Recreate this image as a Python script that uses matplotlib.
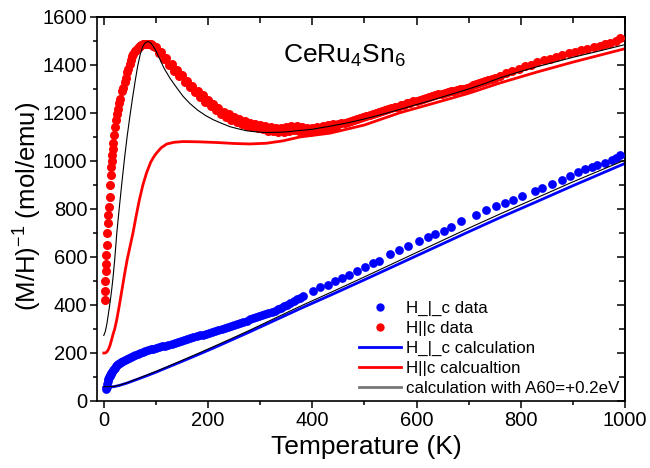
import matplotlib
matplotlib.use("Agg")
import matplotlib.pyplot as plt
from matplotlib.lines import Line2D
from matplotlib.ticker import MultipleLocator

plt.rcParams['font.family'] = ['Liberation Sans', 'DejaVu Sans']
plt.rcParams['mathtext.fontset'] = 'custom'
plt.rcParams['mathtext.rm'] = 'Liberation Sans'
plt.rcParams['mathtext.it'] = 'Liberation Sans:italic'
plt.rcParams['mathtext.default'] = 'regular'

# ---------------- data ----------------
# H perpendicular c, measured
perp_T = [5, 6, 7, 8, 9, 10, 11, 12, 13, 14, 15, 17, 19, 21, 23, 25, 28, 31, 34, 37, 40, 44,
          48, 52, 56, 60, 65, 70, 75, 80, 85, 90, 95, 100, 106, 112, 118, 124, 130, 136, 142,
          148, 154, 160, 166, 172, 178, 184, 190, 196, 202, 208, 214, 220, 226, 232, 238, 244,
          250, 256, 262, 268, 274, 280, 286, 292, 298, 304, 310, 316, 322, 328, 334, 340, 346,
          352, 358, 364, 370, 376, 382, 401, 415, 430, 443, 458, 471, 485, 501, 517, 528, 550,
          567, 583, 605, 622, 635, 653, 666, 685, 714, 733, 752, 770, 785, 803, 827, 841, 860,
          879, 894, 910, 923, 936, 946, 962, 975, 983, 990]
perp_chi = [48, 60, 72, 84, 92, 98, 104, 109, 113, 117, 121, 128, 134, 139, 144, 148, 154, 159,
            164, 168, 172, 177, 181, 185, 189, 193, 197, 201, 205, 209, 212, 215, 218, 221, 224,
            228, 231, 234, 238, 241, 245, 249, 253, 257, 261, 265, 269, 273, 276, 280, 284, 288,
            292, 296, 300, 304, 308, 312, 317, 321, 325, 330, 335, 340, 344, 349, 353, 358, 362,
            367, 372, 377, 383, 388, 394, 401, 409, 416, 424, 431, 439, 457, 473, 485, 498, 514,
            527, 543, 560, 577, 585, 613, 630, 647, 665, 685, 697, 709, 726, 748, 776, 797, 812,
            825, 838, 854, 876, 889, 905, 921, 939, 955, 967, 977, 983, 993, 1004, 1012, 1025]

# H parallel c, measured
par_T = [2, 2.5, 3, 3.5, 4, 5, 6, 7, 8, 9, 10, 11, 12, 13, 14, 15, 16, 17, 18, 20, 22, 24,
         26, 28, 30, 32, 35, 37, 40, 42, 45, 47, 50, 52, 55, 57, 60, 62, 65, 67, 70, 72, 75,
         78, 81, 84, 87, 90, 93, 95, 98,
         100, 105, 110, 115, 120, 125, 130, 135, 140, 145, 150, 155, 160, 165, 170, 175, 180,
         185, 190, 195, 200, 205, 210, 215, 220, 225, 230, 235, 240, 245, 250, 255, 260, 265,
         270, 275, 280, 285, 290, 295, 300, 305, 310, 315, 320, 325, 330, 335, 340, 345, 350,
         355, 360, 365, 370, 375, 380, 385, 390, 395, 400, 405, 410, 415, 420, 425, 430, 435,
         440, 445, 450,
         456, 462, 468, 474, 480, 486, 492, 498, 504, 510, 516, 522, 528, 534, 540, 546, 552,
         558, 564, 570, 576, 582, 588, 594, 600, 606, 612, 618, 624, 630, 636, 642, 648, 654,
         660, 666, 672, 678, 684, 690, 696, 702, 708, 714, 720, 726, 732, 738, 744, 750,
         760, 772, 784, 796, 808, 820, 832, 844, 856, 868, 880, 892, 904, 916, 928, 940, 952,
         962, 972, 982, 990]
par_chi = [420, 460, 500, 540, 570, 610, 650, 700, 740, 775, 810, 850, 900, 940, 975, 1000,
           1025, 1050, 1075, 1110, 1140, 1170, 1195, 1215, 1240, 1260, 1290, 1305, 1330, 1345,
           1370, 1385, 1405, 1420, 1438, 1447, 1458, 1463, 1472, 1476, 1480, 1483, 1486, 1487,
           1488, 1488, 1487, 1486, 1483, 1479, 1473,
           1476, 1449, 1455, 1426, 1428, 1398, 1404, 1376, 1380, 1354, 1358, 1330, 1335, 1308,
           1314, 1288, 1293, 1266, 1274, 1247, 1254, 1228, 1236, 1211, 1220, 1197, 1205, 1183,
           1194, 1171, 1182, 1162, 1173, 1153, 1165, 1146, 1160, 1141, 1155, 1137, 1150, 1132,
           1146, 1127, 1142, 1124, 1139, 1122, 1138, 1122, 1140, 1127, 1146, 1129, 1144, 1127,
           1140, 1121, 1136, 1121, 1139, 1125, 1143, 1129, 1147, 1133, 1151, 1138, 1156, 1143,
           1153,
           1157, 1160, 1164, 1168, 1172, 1176, 1180, 1184, 1188, 1191, 1196, 1199, 1203, 1208,
           1211, 1216, 1219, 1224, 1227, 1232, 1235, 1240, 1243, 1248, 1251, 1256, 1259, 1263,
           1267, 1271, 1274, 1278, 1281, 1284, 1287, 1290, 1293, 1296, 1299, 1302, 1306, 1310,
           1315, 1319, 1324, 1328, 1333, 1338, 1342, 1347,
           1356, 1366, 1375, 1385, 1395, 1402, 1411, 1419, 1426, 1434, 1442, 1449, 1455, 1461,
           1467, 1473, 1480, 1486, 1493, 1502, 1512]

# H perpendicular c, calculation
perp_calc_T = [0, 10, 20, 30, 45, 60, 80, 100, 121, 150, 184, 215, 248, 280, 312, 344, 376,
               434, 500, 560, 632, 700, 760, 830, 900, 1000]
perp_calc_chi = [57, 58, 60, 65, 75, 87, 103, 120, 139, 165, 196, 225, 257, 288, 320, 352,
                 384, 440, 505, 565, 637, 705, 764, 830, 897, 990]

# H parallel c, calculation
par_calc_T = [0, 3, 6, 9, 12, 15, 18, 21, 25, 30, 35, 40, 45, 50, 56, 62, 68, 75, 82, 90,
              95, 100, 110, 121, 135, 152, 180, 217, 250, 280, 312, 344, 376, 434, 500, 568,
              632, 700, 760, 830, 900, 1000]
par_calc_chi = [200, 200, 205, 215, 232, 255, 280, 300, 340, 400, 465, 530, 590, 640, 700,
                770, 835, 900, 950, 995, 1014, 1030, 1055, 1071, 1078, 1081, 1080, 1077, 1073,
                1071, 1074, 1084, 1100, 1116, 1150, 1201, 1240, 1282, 1325, 1370, 1412, 1468]

# calculation with A60 = +0.2 eV (both field directions)
a60_par_T = [0, 3, 6, 9, 12, 15, 18, 21, 25, 30, 35, 40, 45, 50, 55, 60, 65, 70, 75, 80, 85,
             90, 95, 101, 108, 116, 127, 140, 152, 165, 180, 195, 210, 226, 242, 258, 274,
             290, 306, 322, 338, 354, 370, 386, 402, 434, 470, 500, 535, 568, 600, 632, 665,
             700, 730, 760, 795, 830, 865, 900, 950, 1000]
a60_par_chi = [273, 290, 322, 365, 410, 460, 520, 590, 700, 810, 915, 1015, 1105, 1185, 1260,
               1330, 1395, 1445, 1478, 1494, 1498, 1492, 1478, 1455, 1422, 1385, 1345, 1305,
               1270, 1240, 1212, 1190, 1172, 1157, 1143, 1134, 1126, 1122, 1119, 1119, 1120,
               1122, 1126, 1129, 1133, 1145, 1160, 1175, 1195, 1215, 1235, 1255, 1277, 1300,
               1322, 1346, 1370, 1392, 1412, 1432, 1458, 1485]
a60_perp_T = [0, 10, 20, 30, 45, 60, 80, 100, 121, 150, 184, 215, 248, 280, 312, 344, 376,
              434, 500, 560, 632, 700, 760, 830, 900, 1000]
a60_perp_chi = [60, 60, 61, 66, 76, 89, 106, 123, 142, 169, 201, 231, 263, 295, 328, 361, 394,
                451, 517, 578, 651, 720, 779, 846, 913, 1004]

labels = ["H_|_c data", "H||c data", "H_|_c calculation", "H||c calcualtion",
          "calculation with A60=+0.2eV"]

# ---------------- figure ----------------
W, H = 650, 468
fig = plt.figure(figsize=(6.5, 4.68), dpi=100)
ax = fig.add_axes([97 / W, 1 - 401 / H, 528 / W, 384 / H])

BLUE = '#0000FF'
RED = '#FF0000'

ax.plot(par_calc_T, par_calc_chi, color=RED, lw=2.0, zorder=2)
ax.plot(perp_calc_T, perp_calc_chi, color=BLUE, lw=2.0, zorder=2)
ax.plot(perp_T, perp_chi, 'o', color=BLUE, ms=6.3, mec='none', zorder=3)
ax.plot(par_T, par_chi, 'o', color=RED, ms=6.5, mec='none', zorder=3)
ax.plot(a60_par_T, a60_par_chi, color='black', lw=0.8, zorder=4)
ax.plot(a60_perp_T, a60_perp_chi, color='black', lw=0.8, zorder=4)

ax.set_xlim(-13, 1000)
ax.set_ylim(0, 1600)
ax.xaxis.set_major_locator(MultipleLocator(200))
ax.xaxis.set_minor_locator(MultipleLocator(100))
ax.yaxis.set_major_locator(MultipleLocator(200))
ax.yaxis.set_minor_locator(MultipleLocator(100))

for s in ax.spines.values():
    s.set_linewidth(1.2)

ax.tick_params(which='both', direction='out', labelsize=14.5, width=1.1, pad=2)
ax.tick_params(which='major', length=5)
ax.tick_params(which='minor', length=3)

secx = ax.secondary_xaxis('top')
secx.xaxis.set_major_locator(MultipleLocator(200))
secx.xaxis.set_minor_locator(MultipleLocator(100))
secx.tick_params(which='both', direction='in', labeltop=False, width=1.1)
secx.tick_params(which='major', length=6)
secx.tick_params(which='minor', length=4)
secx.spines['top'].set_linewidth(1.2)

secy = ax.secondary_yaxis('right')
secy.yaxis.set_major_locator(MultipleLocator(200))
secy.yaxis.set_minor_locator(MultipleLocator(100))
secy.tick_params(which='both', direction='in', labelright=False, width=1.1)
secy.tick_params(which='major', length=6)
secy.tick_params(which='minor', length=4)
secy.spines['right'].set_linewidth(1.2)

fig.text(366 / W, 1 - 454 / H, "Temperature (K)", fontsize=19, ha='center', va='baseline')
fig.text(28 / W, 1 - 311 / H, r"(M/H)$^{-1}$ (mol/emu)", fontsize=18.5, rotation=90,
         ha='center', va='bottom')

ax.text(343, 1409, r"CeRu$_4$Sn$_6$", fontsize=19, va='baseline', ha='left')

handles = [
    Line2D([], [], ls='none', marker='o', color=BLUE, ms=6, mec='none'),
    Line2D([], [], ls='none', marker='o', color=RED, ms=6, mec='none'),
    Line2D([], [], color=BLUE, lw=2.0),
    Line2D([], [], color=RED, lw=2.0),
    Line2D([], [], color='#777777', lw=2.0),
]
ax.legend(handles, labels, loc='lower right', bbox_to_anchor=(0.99, 0.012),
          frameon=False, fontsize=12.2, handlelength=2.5, handletextpad=0.3,
          labelspacing=0.3, borderpad=0, borderaxespad=0)

fig.savefig("out.png", dpi=100)
